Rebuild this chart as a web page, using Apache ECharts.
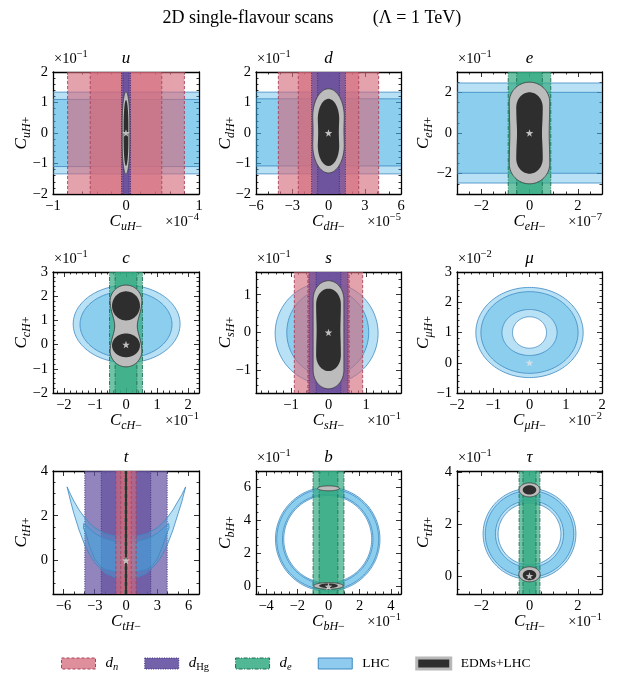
<!DOCTYPE html>
<html><head><meta charset="utf-8">
<script src="https://cdn.jsdelivr.net/npm/echarts@6/dist/echarts.min.js"></script>
<style>html,body{margin:0;padding:0;background:#fff}#c{width:622px;height:684px}</style>
</head><body><div id="c"></div><script>
// ---------------- data ----------------
const flavours   = ['u','d','e','c','s','μ','t','b','τ'];
const xExponents = ['−4','−5','−7','−1','−1','−2','','−1','−1'];
const yExponents = ['−1','−1','−1','−1','−1','−2','','−1','−1'];
const xMin = [-1,-6,-3,-2.35,-1.93,-2,-7,-4.65,-3];
const xMax = [ 1, 6, 3, 2.35, 1.93, 2, 7, 4.65, 3];
const yMin = [-2,-2,-3,-2,-1.6,-1,-1.5,-0.45,-0.7];
const yMax = [ 2, 2, 3, 3, 1.6, 3, 4, 7, 4.05];
const xTicks = [[-1,0,1],[-6,-3,0,3,6],[-2,0,2],[-2,-1,0,1,2],[-1,0,1],[-2,-1,0,1,2],[-6,-3,0,3,6],[-4,-2,0,2,4],[-2,0,2]];
const yTicks = [[-2,-1,0,1,2],[-2,-1,0,1,2],[-2,0,2],[-2,-1,0,1,2,3],[-1,0,1],[-1,0,1,2,3],[0,2,4],[0,2,4,6],[0,2,4]];
const xMinorStep = [0.2,1,0.5,0.2,0.2,0.2,1,0.5,0.5];
const yMinorStep = [0.2,0.2,0.5,0.2,0.2,0.2,0.5,0.5,0.5];

// EDM bands: half widths [2σ, 1σ] in C_{fH-}
const dnBands  = [[0.80,0.49],[4.15,2.5],null,null,[0.91,0.55],null,[0.97,0.5],null,null];
const dHgBands = [[0.062,0.041],[1.4,0.9],null,null,[0.52,0.33],null,[3.95,2.37],null,null];
const deBands  = [null,null,[0.88,0.53],[0.53,0.35],null,null,[0.09,0.05],[0.99,0.6],[0.43,0.27]];

// LHC regions
const lhcHBand2s = [[-1.34,1.34],[-1.34,1.34],[-2.46,2.46],null,null,null,null,null,null];
const lhcHBand1s = [[-1.10,1.10],[-1.08,1.12],[-1.98,2.00],null,null,null,null,null,null];
const lhcEllipse2s = [null,null,null,[0.02,0.85,1.72,1.60],[-0.05,-0.02,1.37,1.35],null,null,null,null];
const lhcEllipse1s = [null,null,null,[0.00,0.83,1.48,1.38],[-0.02,0.00,1.09,1.15],null,null,null,null];
const lhcAnnulus2s = [null,null,null,null,null,[0,1.0,1.48,1.49,0.47,0.52],null,[-0.05,2.87,3.35,3.15,2.82,2.65],[0,1.62,1.92,1.755,1.30,1.19]];
const lhcAnnulus1s = [null,null,null,null,null,[0,1.0,1.34,1.35,0.76,0.76],null,[-0.05,2.87,3.27,3.07,2.90,2.72],[0,1.62,1.83,1.67,1.41,1.29]];
const tLhc2sLower = [[-5.65,3.29],[-5.3,2.62],[-5.0,2.10],[-4.5,1.36],[-4.0,0.75],[-3.5,0.27],[-3.0,-0.10],[-2.0,-0.58],[-1.0,-0.77],[0,-0.80],[1.0,-0.77],[2.0,-0.58],[3.0,-0.10],[3.5,0.27],[4.0,0.75],[4.5,1.36],[5.0,2.10],[5.35,2.62],[5.72,3.29]];
const tLhc2sUpper = [[5.72,3.29],[5.35,2.94],[5.0,2.66],[4.5,2.26],[4.0,1.94],[3.5,1.67],[3.0,1.46],[2.0,1.20],[1.0,1.08],[0,1.06],[-1.0,1.08],[-2.0,1.20],[-3.0,1.46],[-3.5,1.67],[-4.0,1.94],[-4.5,2.26],[-5.0,2.66],[-5.3,2.94]];
const tLhc1sLower = [[-4.05,1.65],[-4.08,1.45],[-3.8,1.13],[-3.5,0.63],[-3.0,0.07],[-2.5,-0.24],[-2.0,-0.40],[-1.0,-0.50],[0,-0.50],[1.0,-0.50],[2.0,-0.40],[2.5,-0.24],[3.0,0.07],[3.5,0.63],[3.85,1.13],[4.13,1.45],[4.1,1.65]];
const tLhc1sUpper = [[4.1,1.65],[3.85,1.55],[3.5,1.42],[3.0,1.22],[2.5,1.08],[2.0,0.97],[1.0,0.85],[0,0.83],[-1.0,0.85],[-2.0,0.97],[-2.5,1.08],[-3.0,1.22],[-3.5,1.42],[-3.8,1.55]];

// EDMs+LHC regions: [cx, cy, halfWidth, halfHeight, capHeight, waist]
const comb2s = [
  [[0,0,0.052,1.35,1.0,0]],
  [[0,0.07,1.32,1.38,0.95,0.03]],
  [[0,0,0.84,2.5,1.0,0.03]],
  [[0,0.77,0.52,1.69,0.7,0.3]],
  [[0,-0.06,0.41,1.43,0.5,0]],
  [],
  [],
  [[0,5.95,0.7,0.15,0.15,0],[0,0.04,0.95,0.2,0.2,0]],
  [[0,3.32,0.43,0.27,0.27,0],[0,0.06,0.44,0.29,0.29,0]]
];
const comb1s = [
  [[0,0,0.032,1.08,0.8,0]],
  [[0,0.02,0.90,1.10,0.70,0.05]],
  [[0,0,0.55,2.0,0.75,0.06]],
  [[0,1.6,0.45,0.6,0.6,0],[0,-0.03,0.45,0.49,0.49,0]],
  [[0,0.07,0.33,1.09,0.42,0.04]],
  [],
  [[0,1.25,0.09,2.75,0.001,0]],
  [[0,0.05,0.6,0.14,0.14,0]],
  [[0,3.32,0.28,0.18,0.18,0],[0,0.03,0.28,0.2,0.2,0]]
];
const bestFit = [[0,0],[0,0],[0,0],[0,0],[0,0],[0,0],[0,0],[0,0],[0,0]];

// ---------------- layout / style ----------------
const FONT = 'Liberation Serif';
const colLeft=[53,256,457], colRight=[199,401,602], rowTop=[72,272,471], rowBottom=[194,393,594];
const yNameGap = [20,19,22];
const ST = {
  dn:  {fill:'rgba(211,105,122,0.62)', stroke:'#a9435a', dash:[3,2]},
  dHg: {fill:'rgba(100,80,160,0.70)', stroke:'#3a2c7c', dash:[1,1.4]},
  de:  {fill:'rgba(50,170,130,0.70)', stroke:'#1d6e52', dash:[4,1.5,1,1.5]},
  lhc: {fill:'rgba(61,172,227,0.36)', stroke:'#3b88c0'},
  c2:  {fill:'#bcbcbc', stroke:'#3a3a3a'},
  c1:  {fill:'#2e2e2e'}
};
// drawing order of LHC relative to EDM bands (number of bands drawn before LHC)
const lhcAfterBands = [0,0,0,0,0,0,1,0,0];
const STAR = 'path://M0,-10 L2.35,-3.24 L9.51,-3.09 L3.8,1.24 L5.88,8.09 L0,4 L-5.88,8.09 L-3.8,1.24 L-9.51,-3.09 L-2.35,-3.24 Z';

function fmt(v){ if (Math.abs(v)<1e-9) return '0'; return v<0 ? '\u2212'+(-v) : String(v); }
function minorVals(min,max,step,majors){
  const out=[]; const k0=Math.ceil(min/step-1e-9), k1=Math.floor(max/step+1e-9);
  for(let k=k0;k<=k1;k++){ const v=+(k*step).toFixed(6); if(!majors.some(m=>Math.abs(m-v)<1e-9)) out.push(v); }
  return out;
}
function ellipseRing(cx,cy,rx,ry,rev){
  const pts=[]; const N=160;
  for(let k=0;k<N;k++){ const t=(rev?-1:1)*2*Math.PI*k/N; pts.push([cx+rx*Math.cos(t), cy+ry*Math.sin(t)]); }
  return pts;
}
function stadiumRing(p){
  const [cx,cy,a,b,c,w]=p; const N=70; const right=[], left=[]; const s=b-c;
  for(let k=0;k<=N;k++){
    const y=-b*Math.cos(Math.PI*k/N); const ay=Math.abs(y);
    const f= ay<=s?1:Math.sqrt(Math.max(0,1-Math.pow((ay-s)/c,2)));
    const x=a*f*(1-w*Math.exp(-Math.pow(y/(0.35*b),2)));
    right.push([cx+x,cy+y]); left.push([cx-x,cy+y]);
  }
  return right.concat(left.reverse());
}
function pathOf(api, rings){
  let d='';
  rings.forEach(ring=>{ ring.forEach((p,k)=>{ const c=api.coord(p); d+=(k?'L':'M')+c[0].toFixed(2)+' '+c[1].toFixed(2)+' '; }); d+='Z '; });
  return d;
}

const richSub = {
  c:{fontFamily:FONT,fontStyle:'italic',fontSize:17,lineHeight:22,verticalAlign:'middle',color:'#000'},
  s:{fontFamily:FONT,fontStyle:'italic',fontSize:12,lineHeight:22,verticalAlign:'bottom',color:'#000'},
  p:{fontFamily:FONT,fontSize:12,lineHeight:22,verticalAlign:'bottom',color:'#000'}
};
const richSup = {
  t:{fontFamily:FONT,fontSize:14.5,lineHeight:20,verticalAlign:'middle',color:'#000'},
  e:{fontFamily:FONT,fontSize:10.5,lineHeight:20,verticalAlign:'top',color:'#000'}
};

function ax(gridIndex, position, min, max, ticks, len, showLine, showLabels, extra){
  return Object.assign({
    type:'value', gridIndex, position, min, max,
    axisLine:{show:showLine, onZero:false, lineStyle:{color:'#000', width:1.3}},
    axisTick:{show:true, inside:true, length:len, customValues:ticks, lineStyle:{color:'#000', width:0.8}},
    axisLabel:{show:showLabels, customValues:ticks, formatter:fmt, margin:5, color:'#000', fontFamily:FONT, fontSize:14.5},
    splitLine:{show:false}, minorTick:{show:false}, minorSplitLine:{show:false}
  }, extra||{});
}

const grid=[], xAxis=[], yAxis=[], series=[], graphic=[];
for (let i=0;i<9;i++){
  const r=Math.floor(i/3), c=i%3;
  const L=colLeft[c], R=colRight[c], T=rowTop[r], B=rowBottom[r];
  grid.push({left:L, top:T, width:R-L, height:B-T});
  grid.push({left:L, top:T, width:R-L, height:B-T});
  const xm=minorVals(xMin[i],xMax[i],xMinorStep[i],xTicks[i]);
  const ym=minorVals(yMin[i],yMax[i],yMinorStep[i],yTicks[i]);
  const fl=flavours[i];
  xAxis.push(ax(2*i,'bottom',xMin[i],xMax[i],xTicks[i],5,true,true,{
    name:'{c|C}{s|'+fl+'H}{p|\u2212}', nameLocation:'middle', nameGap:17, nameMoveOverlap:false,
    nameTextStyle:{rich:richSub, fontFamily:FONT}}));
  xAxis.push(ax(2*i,'top',xMin[i],xMax[i],xTicks[i],5,true,false));
  xAxis.push(ax(2*i+1,'bottom',xMin[i],xMax[i],xm,2.5,false,false));
  xAxis.push(ax(2*i+1,'top',xMin[i],xMax[i],xm,2.5,false,false));
  yAxis.push(ax(2*i,'left',yMin[i],yMax[i],yTicks[i],5,true,true,{
    name:'{c|C}{s|'+fl+'H}{p|+}', nameLocation:'middle', nameGap:yNameGap[c], nameRotate:90, nameMoveOverlap:false,
    nameTextStyle:{rich:richSub, fontFamily:FONT}}));
  yAxis.push(ax(2*i,'right',yMin[i],yMax[i],yTicks[i],5,true,false));
  yAxis.push(ax(2*i+1,'left',yMin[i],yMax[i],ym,2.5,false,false));
  yAxis.push(ax(2*i+1,'right',yMin[i],yMax[i],ym,2.5,false,false));

  const base = {type:'custom', xAxisIndex:4*i, yAxisIndex:4*i, coordinateSystem:'cartesian2d', silent:true, clip:true, animation:false};

  // LHC
  const lhc=[];
  if (lhcHBand2s[i]) { lhc.push({hband:lhcHBand2s[i]}); lhc.push({hband:lhcHBand1s[i]}); }
  if (lhcEllipse2s[i]) { const e2=lhcEllipse2s[i], e1=lhcEllipse1s[i];
    lhc.push({rings:[ellipseRing(e2[0],e2[1],e2[2],e2[3],false)]});
    lhc.push({rings:[ellipseRing(e1[0],e1[1],e1[2],e1[3],false)]}); }
  if (lhcAnnulus2s[i]) { [lhcAnnulus2s[i], lhcAnnulus1s[i]].forEach(a=>{
    lhc.push({rings:[ellipseRing(a[0],a[1],a[2],a[3],false), ellipseRing(a[0],a[1],a[4],a[5],true)]}); }); }
  if (i===6) { lhc.push({rings:[tLhc2sLower.concat(tLhc2sUpper)]}); lhc.push({rings:[tLhc1sLower.concat(tLhc1sUpper)]}); }
  const lhcSeries = Object.assign({}, base, {name:'LHC', data:lhc.map(()=>[0,0]), renderItem:(params, api)=>{
    const s=lhc[params.dataIndex];
    if (s.hband){
      const a=api.coord([xMin[i], s.hband[0]]), b=api.coord([xMax[i], s.hband[1]]);
      return {type:'group', children:[
        {type:'rect', shape:{x:a[0], y:b[1], width:b[0]-a[0], height:a[1]-b[1]}, style:{fill:ST.lhc.fill}},
        {type:'line', shape:{x1:a[0],y1:a[1],x2:b[0],y2:a[1]}, style:{stroke:ST.lhc.stroke, lineWidth:0.8}},
        {type:'line', shape:{x1:a[0],y1:b[1],x2:b[0],y2:b[1]}, style:{stroke:ST.lhc.stroke, lineWidth:0.8}}]};
    }
    return {type:'path', shape:{pathData:pathOf(api, s.rings)}, style:{fill:ST.lhc.fill, stroke:ST.lhc.stroke, lineWidth:0.8}};
  }});

  // EDM bands, widest first
  const bands=[];
  if (dnBands[i]) bands.push({name:'dn', hw:dnBands[i], st:ST.dn});
  if (dHgBands[i]) bands.push({name:'dHg', hw:dHgBands[i], st:ST.dHg});
  if (deBands[i]) bands.push({name:'de', hw:deBands[i], st:ST.de});
  bands.sort((a,b)=>b.hw[0]-a.hw[0]);
  if (lhcAfterBands[i]===0) series.push(lhcSeries);
  bands.forEach((bd,k)=>{
    series.push(Object.assign({}, base, {name:bd.name, data:bd.hw.map(()=>[0,0]), renderItem:(params, api)=>{
      const w=bd.hw[params.dataIndex];
      const a=api.coord([-w,yMin[i]]), b=api.coord([w,yMax[i]]);
      const ls={stroke:bd.st.stroke, lineWidth:0.9, lineDash:bd.st.dash};
      return {type:'group', children:[
        {type:'rect', shape:{x:a[0], y:b[1], width:b[0]-a[0], height:a[1]-b[1]}, style:{fill:bd.st.fill}},
        {type:'line', shape:{x1:a[0],y1:a[1],x2:a[0],y2:b[1]}, style:ls},
        {type:'line', shape:{x1:b[0],y1:a[1],x2:b[0],y2:b[1]}, style:ls}]};
    }}));
    if (lhcAfterBands[i]===k+1) series.push(lhcSeries);
  });

  // EDMs+LHC
  const comb=[];
  comb2s[i].forEach(p=>comb.push({ring:stadiumRing(p), st:ST.c2}));
  comb1s[i].forEach(p=>comb.push({ring:stadiumRing(p), st:ST.c1}));
  series.push(Object.assign({}, base, {name:'EDMs+LHC', data:comb.map(()=>[0,0]), renderItem:(params, api)=>{
    const s=comb[params.dataIndex];
    return {type:'path', shape:{pathData:pathOf(api,[s.ring])}, style:{fill:s.st.fill, stroke:s.st.stroke||null, lineWidth:0.8}};
  }}));

  // best fit star
  series.push({type:'scatter', name:'best fit', xAxisIndex:4*i, yAxisIndex:4*i, data:[bestFit[i]], symbol:STAR, symbolSize:7.5,
    itemStyle:{color:'#e4e4e4'}, silent:true, z:5, animation:false});

  // titles & multipliers
  graphic.push({type:'text', x:(L+R)/2, y:T-13, style:{text:fl, fontFamily:FONT, fontStyle:'italic', fontSize:17, fill:'#000', align:'center', verticalAlign:'middle', textAlign:'center', textVerticalAlign:'middle'}});
  if (yExponents[i]) graphic.push({type:'text', x:L+1, y:T-13, style:{text:'{t|×10}{e|'+yExponents[i]+'}', rich:richSup, align:'left', verticalAlign:'middle', textAlign:'left', textVerticalAlign:'middle'}});
  if (xExponents[i]) graphic.push({type:'text', x:R, y:B+28, style:{text:'{t|×10}{e|'+xExponents[i]+'}', rich:richSup, align:'right', verticalAlign:'middle', textAlign:'right', textVerticalAlign:'middle'}});
}

graphic.push({type:'text', x:248, y:18, style:{text:'2D single-flavour scans', fontFamily:FONT, fontSize:18, fill:'#000', align:'center', verticalAlign:'middle', textAlign:'center', textVerticalAlign:'middle'}});
graphic.push({type:'text', x:417, y:18, style:{text:'(Λ = 1 TeV)', fontFamily:FONT, fontSize:18, fill:'#000', align:'center', verticalAlign:'middle', textAlign:'center', textVerticalAlign:'middle'}});

const legendNames = {dn:'{i|d}{s|n}', dHg:'{i|d}{r|Hg}', de:'{i|d}{s|e}', 'LHC':'{t|LHC}', 'EDMs+LHC':'{t|EDMs+LHC}'};
const option = {
  animation:false, backgroundColor:'#fff',
  grid, xAxis, yAxis, series, graphic,
  legend:{left:56, top:651, itemWidth:34, itemHeight:11, itemGap:26, icon:'rect', selectedMode:false,
    formatter:n=>legendNames[n],
    textStyle:{fontFamily:FONT, fontSize:13, color:'#000', padding:[0,0,0,5], rich:{
      i:{fontFamily:FONT,fontStyle:'italic',fontSize:15,lineHeight:18,verticalAlign:'middle'},
      s:{fontFamily:FONT,fontStyle:'italic',fontSize:10.5,lineHeight:18,verticalAlign:'bottom'},
      r:{fontFamily:FONT,fontSize:10.5,lineHeight:18,verticalAlign:'bottom'},
      t:{fontFamily:FONT,fontSize:13.5,lineHeight:18,verticalAlign:'middle'}}},
    data:[
      {name:'dn', itemStyle:{color:'rgba(211,105,122,0.75)', borderColor:'#a9435a', borderWidth:1, borderType:[3,2]}},
      {name:'dHg', itemStyle:{color:'rgba(100,80,160,0.9)', borderColor:'#3a2c7c', borderWidth:1, borderType:[1,1.4]}},
      {name:'de', itemStyle:{color:'rgba(50,170,130,0.85)', borderColor:'#1d6e52', borderWidth:1, borderType:[4,1.5,1,1.5]}},
      {name:'LHC', itemStyle:{color:'#8ecbef', borderColor:'#3b88c0', borderWidth:1}},
      {name:'EDMs+LHC', itemStyle:{color:'#2e2e2e', borderColor:'#b8b8b8', borderWidth:3}}
    ]}
};
const chart = echarts.init(document.getElementById('c'), null, {width:622, height:684});
chart.setOption(option);
</script></body></html>
